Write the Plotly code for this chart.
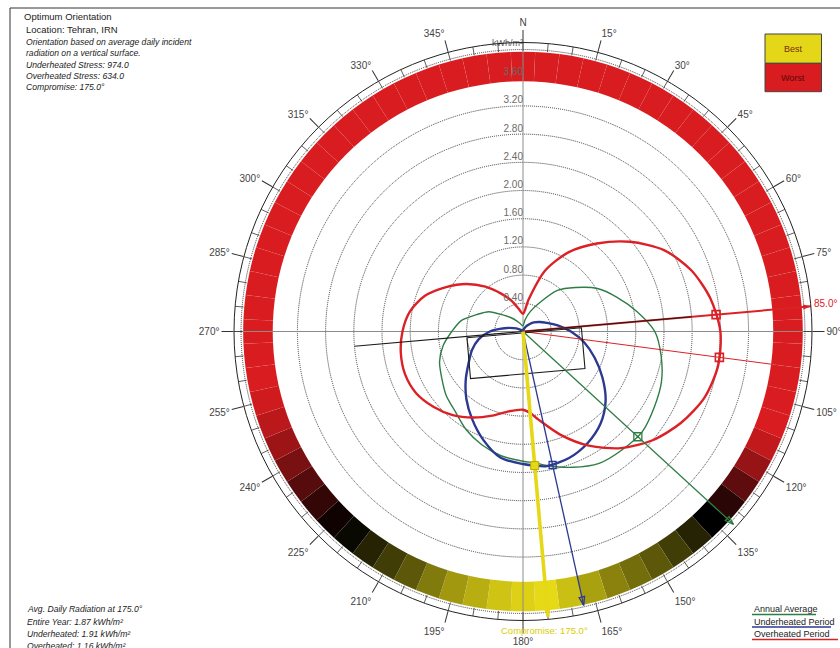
import numpy as np
import plotly.graph_objects as go

# ---------------------------------------------------------------------------
# Data: average daily incident radiation on a vertical surface (kWh/m2)
# by orientation (compass degrees, clockwise from north) - Tehran, IRN
# ---------------------------------------------------------------------------
theta_deg = [0, 10, 20, 30, 40, 50, 60, 70, 80, 90, 100, 110, 120, 130, 140,
             150, 160, 170, 175, 180, 190, 200, 210, 220, 230, 240, 250, 260,
             270, 280, 290, 300, 310, 320, 330, 340, 350]

annual_average = [0.08, 0.17, 0.30, 0.47, 0.76, 0.97, 1.22, 1.42, 1.64, 1.87,
                  1.99, 2.09, 2.15, 2.21, 2.19, 2.16, 2.05, 1.93, 1.87, 1.84,
                  1.79, 1.71, 1.61, 1.49, 1.42, 1.33, 1.26, 1.15, 1.01, 0.89,
                  0.70, 0.56, 0.36, 0.25, 0.17, 0.12, 0.09]

underheated_period = [0.00, 0.01, 0.04, 0.08, 0.13, 0.20, 0.27, 0.36, 0.50,
                      0.68, 0.88, 1.08, 1.30, 1.53, 1.71, 1.83, 1.91, 1.94,
                      1.91, 1.88, 1.82, 1.64, 1.44, 1.25, 1.06, 0.89, 0.77,
                      0.64, 0.47, 0.27, 0.14, 0.07, 0.03, 0.01, 0.00, 0.00,
                      0.00]

overheated_period = [0.25, 0.46, 0.92, 1.30, 1.63, 1.98, 2.31, 2.54, 2.70,
                     2.80, 2.81, 2.74, 2.59, 2.40, 2.16, 1.87, 1.56, 1.27,
                     1.16, 1.11, 1.15, 1.27, 1.41, 1.55, 1.66, 1.75, 1.78,
                     1.76, 1.71, 1.63, 1.48, 1.26, 1.05, 0.83, 0.62, 0.46,
                     0.32]

# Key orientations
compromise_deg = 175.0
overheated_worst_deg = 85.0
overheated_alt_deg = 97.5
underheated_best_deg = 167.5
annual_best_deg = 132.5

# Values read at the key orientations
compromise_r = 1.91
overheated_worst_r = 2.75
overheated_alt_r = 2.81
underheated_best_r = 1.94
annual_best_r = 2.21

# Orientation score ring (0 = best / yellow, 0.5 = neutral, 1 = worst / red)
ring_theta = list(range(0, 360, 5))
ring_score = ([1.0] * 23 +                       # 0 .. 110
              [0.95, 0.85, 0.72, 0.60, 0.50, 0.42, 0.36, 0.30, 0.25, 0.20,
               0.13, 0.06, 0.00, 0.02, 0.05, 0.10, 0.15, 0.22, 0.30, 0.36,
               0.42, 0.48, 0.54, 0.62, 0.70, 0.78, 0.86, 0.93, 0.98] +   # 115 .. 255
              [1.0] * 20)                        # 260 .. 355

# Building footprint (local axes: u along the building axis, v across it)
footprint_u = [-0.80, 0.83, 0.83, -0.80, -0.80]
footprint_v = [0.02, 0.02, 0.60, 0.60, 0.02]
building_axis_deg = 85.0
building_axis_r = 2.40

# Radial grid and labels
grid_values = [0.4, 0.8, 1.2, 1.6, 2.0, 2.4, 2.8, 3.2, 3.6, 4.0]
grid_labels = ["0.40", "0.80", "1.20", "1.60", "2.00", "2.40", "2.80", "3.20", "3.60"]

angle_ticks = list(range(0, 360, 15))
angle_text = ["N" if a == 0 else f"{a}°" for a in angle_ticks]

R_MAX = 4.1
RING_IN, RING_OUT = 3.55, 3.97

RED = "#dc2126"
BLUE = "#2b3990"
GREEN = "#2e7d44"
YELLOW = "#e6d816"
FONT = "Liberation Sans, Arial, sans-serif"


def closed(seq):
    return list(seq) + [seq[0]]


fig = go.Figure()

# colour ring of orientation performance
fig.add_trace(go.Barpolar(
    r=[RING_OUT - RING_IN] * len(ring_theta), base=RING_IN, theta=ring_theta, width=5,
    marker=dict(color=ring_score, cmin=0, cmax=1,
                colorscale=[[0, "#e6d916"], [0.5, "#000000"], [1, "#d81c1f"]],
                line=dict(color="rgba(255,255,255,0.07)", width=0.5)),
    hoverinfo="skip"))

# N-S / E-W cross
fig.add_trace(go.Scatterpolar(
    r=[R_MAX, R_MAX, None, R_MAX, R_MAX], theta=[0, 180, None, 90, 270],
    mode="lines", line=dict(color="#8c8c8c", width=1), hoverinfo="skip"))

# 5-degree ticks inside the outer circle
tick_r, tick_t = [], []
for a in range(0, 360, 5):
    tick_r += [RING_OUT + 0.01, R_MAX, None]
    tick_t += [a, a, None]
fig.add_trace(go.Scatterpolar(r=tick_r, theta=tick_t, mode="lines",
                              line=dict(color="#333333", width=0.8), hoverinfo="skip"))

# radiation curves
fig.add_trace(go.Scatterpolar(r=closed(annual_average), theta=closed(theta_deg), mode="lines",
                              line=dict(color=GREEN, width=1.4, shape="spline", smoothing=0.8)))
fig.add_trace(go.Scatterpolar(r=closed(underheated_period), theta=closed(theta_deg), mode="lines",
                              line=dict(color=BLUE, width=2.4, shape="spline", smoothing=0.8)))
fig.add_trace(go.Scatterpolar(r=closed(overheated_period), theta=closed(theta_deg), mode="lines",
                              line=dict(color=RED, width=2.4, shape="spline", smoothing=0.8)))

# overheated worst-orientation rays
fig.add_trace(go.Scatterpolar(r=[0, 3.57], theta=[overheated_alt_deg] * 2, mode="lines",
                              line=dict(color=RED, width=1)))
fig.add_trace(go.Scatterpolar(r=[0, R_MAX], theta=[overheated_worst_deg] * 2, mode="lines",
                              line=dict(color=RED, width=2)))

# building axis and footprint
fig.add_trace(go.Scatterpolar(r=[building_axis_r, 0, building_axis_r],
                              theta=[building_axis_deg + 180, building_axis_deg + 180, building_axis_deg],
                              mode="lines", line=dict(color="#1a1a1a", width=1.2)))
u = np.array(footprint_u)
v = np.array(footprint_v)
fp_r = np.hypot(u, v)
fp_t = building_axis_deg + np.degrees(np.arctan2(v, u))
fig.add_trace(go.Scatterpolar(r=fp_r, theta=fp_t, mode="lines",
                              line=dict(color="#1a1a1a", width=1.1)))

# best-orientation rays with arrow heads
rays = [
    (annual_best_deg, 4.05, GREEN, 1.3, "arrow-open", 9),
    (underheated_best_deg, 3.98, BLUE, 1.3, "arrow-open", 9),
    (compromise_deg, 4.06, YELLOW, 3.6, "arrow", 10),
]
for ang, rr, col, w, sym, sz in rays:
    fig.add_trace(go.Scatterpolar(r=[0, rr], theta=[ang, ang], mode="lines",
                                  line=dict(color=col, width=w)))
    fig.add_trace(go.Scatterpolar(r=[rr], theta=[ang], mode="markers", cliponaxis=False,
                                  marker=dict(symbol=sym, size=sz, angle=ang, color=col,
                                              line=dict(color=col, width=1.3))))
fig.add_trace(go.Scatterpolar(r=[R_MAX], theta=[overheated_worst_deg], mode="markers",
                              cliponaxis=False,
                              marker=dict(symbol="arrow", size=8, angle=overheated_worst_deg,
                                          color=RED)))

# value markers
fig.add_trace(go.Scatterpolar(r=[annual_best_r], theta=[annual_best_deg], mode="markers",
                              marker=dict(symbol="square-open-dot", size=8, color=GREEN,
                                          line=dict(width=1.3))))
fig.add_trace(go.Scatterpolar(r=[underheated_best_r], theta=[underheated_best_deg], mode="markers",
                              marker=dict(symbol="square-open", size=7, color=BLUE,
                                          line=dict(width=1.3))))
fig.add_trace(go.Scatterpolar(r=[compromise_r], theta=[compromise_deg], mode="markers",
                              marker=dict(symbol="square", size=8, color=YELLOW,
                                          line=dict(color="#b8a800", width=1))))
fig.add_trace(go.Scatterpolar(r=[overheated_worst_r, overheated_alt_r],
                              theta=[overheated_worst_deg, overheated_alt_deg], mode="markers",
                              marker=dict(symbol="square-open", size=8, color=RED,
                                          line=dict(width=1.6))))

# radial value labels along the north axis
fig.add_trace(go.Scatterpolar(r=grid_values[:len(grid_labels)], theta=[0] * len(grid_labels),
                              mode="text", text=grid_labels, textposition="top left",
                              textfont=dict(family=FONT, size=10, color="#6b6b6b")))
fig.add_trace(go.Scatterpolar(r=[4.02], theta=[0], mode="text", text=["kWh/m²"],
                              textposition="top left", cliponaxis=False,
                              textfont=dict(family=FONT, size=9, color="#555555")))

# layout geometry (pixels)
W, H = 840, 648
cx, cy, rad = 523, 331.5, 289
dom_x = [(cx - rad) / W, (cx + rad) / W]
dom_y = [1 - (cy + rad) / H, 1 - (cy - rad) / H]


def px(x):
    return x / W


def py(y):
    return 1 - y / H


def polar_px(r, ang):
    """pixel position of a polar point (r in kWh/m2, ang compass degrees)"""
    k = rad / R_MAX
    a = np.radians(ang)
    return cx + r * k * np.sin(a), cy - r * k * np.cos(a)


annotations = []


def note(x, y, text, size=9, italic=False, color="#222222", anchor="left"):
    t = f"<i>{text}</i>" if italic else text
    annotations.append(dict(x=px(x), y=py(y), xref="paper", yref="paper", text=t,
                            showarrow=False, xanchor=anchor, yanchor="middle",
                            font=dict(family=FONT, size=size, color=color)))


note(22, 16, "Optimum Orientation", size=9.5)
note(24, 30, "Location: Tehran, IRN", size=9.5)
note(24, 42, "Orientation based on average daily incident", italic=True, size=8.6)
note(24, 53, "radiation on a vertical surface.", italic=True, size=8.6)
note(24, 65, "Underheated Stress: 974.0", italic=True, size=8.6)
note(24, 76, "Overheated Stress: 634.0", italic=True, size=8.6)
note(24, 87, "Compromise: 175.0°", italic=True, size=8.6)

note(25, 609, "Avg. Daily Radiation at 175.0°", italic=True, size=8.6)
note(25, 621.5, "Entire Year: 1.87 kWh/m²", italic=True, size=8.6)
note(25, 634, "Underheated: 1.91 kWh/m²", italic=True, size=8.6)
note(25, 646, "Overheated: 1.16 kWh/m²", italic=True, size=8.6)

note(752, 609, "Annual Average", size=9)
note(752, 621.5, "Underheated Period", size=9)
note(752, 634, "Overheated Period", size=9)

note(793, 48.5, "Best", size=9, color="#7a2a10", anchor="center")
note(793, 77.5, "Worst", size=9, color="#5a0a0a", anchor="center")

# orientation call-outs outside the circle
lx, ly = polar_px(4.31, overheated_worst_deg - 0.3)
note(lx, ly, f"{overheated_worst_deg:.1f}°", size=10, color=RED, anchor="center")
lx, ly = polar_px(4.26, compromise_deg + 0.8)
note(lx, ly, f"Compromise: {compromise_deg:.1f}°", size=9.5, color="#dccc00", anchor="center")

shapes = [
    # page frame
    dict(type="line", xref="paper", yref="paper", x0=px(10), x1=px(10), y0=py(8), y1=py(648),
         line=dict(color="#333333", width=1)),
    dict(type="line", xref="paper", yref="paper", x0=px(10), x1=px(840), y0=py(8), y1=py(8),
         line=dict(color="#333333", width=1)),
    # best / worst key
    dict(type="rect", xref="paper", yref="paper", x0=px(765), x1=px(821.5), y0=py(34), y1=py(63.3),
         fillcolor="#e4d717", line=dict(color="#444444", width=1)),
    dict(type="rect", xref="paper", yref="paper", x0=px(765), x1=px(821.5), y0=py(63.3), y1=py(91.7),
         fillcolor="#d81c1f", line=dict(color="#444444", width=1)),
    # legend underlines
    dict(type="line", xref="paper", yref="paper", x0=px(752), x1=px(816), y0=py(614.5), y1=py(614.5),
         line=dict(color=GREEN, width=1.5)),
    dict(type="line", xref="paper", yref="paper", x0=px(752), x1=px(831), y0=py(627), y1=py(627),
         line=dict(color=BLUE, width=1.5)),
    dict(type="line", xref="paper", yref="paper", x0=px(752), x1=px(838), y0=py(639.5), y1=py(639.5),
         line=dict(color=RED, width=1.5)),
]

fig.update_layout(
    width=W, height=H, margin=dict(l=0, r=0, t=0, b=0),
    paper_bgcolor="white", plot_bgcolor="white", showlegend=False,
    polar=dict(
        domain=dict(x=dom_x, y=dom_y),
        bgcolor="white",
        angularaxis=dict(direction="clockwise", rotation=90, tickmode="array",
                         tickvals=angle_ticks, ticktext=angle_text, ticks="outside",
                         ticklen=12, tickwidth=1, tickcolor="#333333",
                         showline=True, linecolor="#222222", linewidth=1, showgrid=False,
                         tickfont=dict(family=FONT, size=10, color="#444444")),
        radialaxis=dict(range=[0, R_MAX], tickmode="array", tickvals=grid_values,
                        showticklabels=False, ticks="", showline=False, showgrid=True,
                        gridcolor="#3a3a3a", griddash="1px,1px", gridwidth=1),
    ),
    annotations=annotations,
    shapes=shapes,
)

fig.write_html("out.html")
